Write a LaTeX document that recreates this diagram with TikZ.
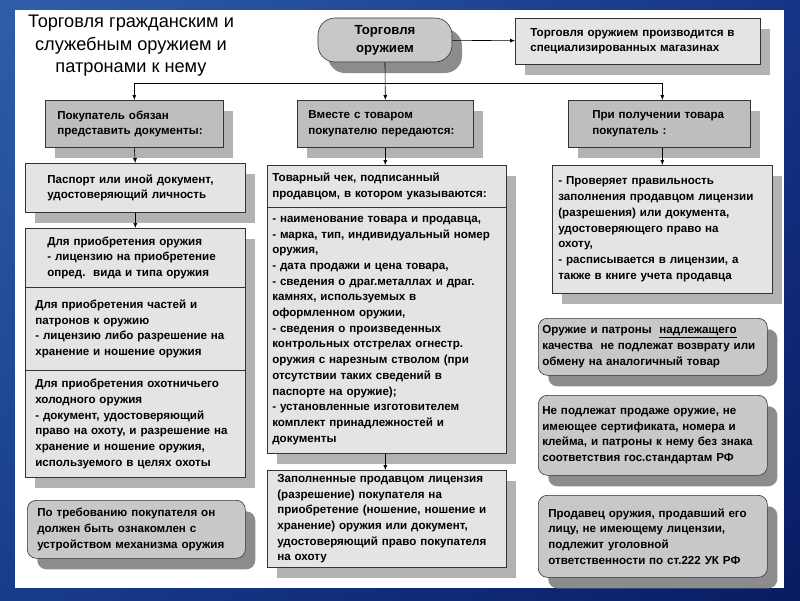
\documentclass[tikz,border=0pt]{standalone}
\usepackage{fontspec}
\setmainfont{Liberation Sans}
\usetikzlibrary{arrows.meta,shadows,shadings}
\definecolor{bgtl}{RGB}{46,94,170}
\definecolor{bgtr}{RGB}{22,52,135}
\definecolor{bgbl}{RGB}{24,60,140}
\definecolor{bgbr}{RGB}{8,28,98}
\definecolor{boxfill}{RGB}{228,228,228}
\definecolor{headfill}{RGB}{190,190,190}
\definecolor{roundfill}{RGB}{200,200,200}
\definecolor{shadelight}{RGB}{178,178,178}
\definecolor{shadedark}{RGB}{140,140,140}
\newcommand\boxfont{\fontsize{11.6}{15.7}\selectfont\bfseries}

\tikzset{
  base/.style={draw=black!80, line width=0.6pt, anchor=north west, align=left, inner ysep=0pt, font=\boxfont},
  box/.style={base, fill=boxfill, drop shadow={shadow xshift=10pt, shadow yshift=-11pt, fill=shadelight, opacity=1}},
  headbox/.style={base, fill=headfill, drop shadow={shadow xshift=10pt, shadow yshift=-11pt, fill=shadelight, opacity=1}},
  roundbox/.style={base, fill=roundfill, rounded corners=9pt, drop shadow={shadow xshift=10pt, shadow yshift=-11pt, fill=shadedark, opacity=1}},
  sz/.style n args={3}{minimum width=#1pt, minimum height=#2pt, text width=#1pt-2*#3pt, inner xsep=#3pt},
  arr/.style={-{Latex[length=5pt,width=4pt]}, black, line width=0.6pt}
}

\begin{document}
\begin{tikzpicture}[x=1pt,y=-1pt]
  %%%%% START %%%%%
  \useasboundingbox (0,0) rectangle (800,600);
  \shade[upper left=bgtl, upper right=bgtr, lower left=bgbl, lower right=bgbr] (0,0) rectangle (800,600);
  \fill[white] (15,10) rectangle (784,588);

  \node[align=center, font=\fontsize{18.2}{22.5}\selectfont] (title) at (131,46) {Торговля гражданским и\\служебным оружием и\\патронами к нему};

  \node[roundbox, rounded corners=17pt, anchor=center, align=center, minimum width=134pt, minimum height=44pt, font=\fontsize{13.2}{18}\selectfont\bfseries] (torg) at (385,40) {Торговля\\оружием};
  \node[box, sz={245}{46}{15}] (shop) at (515,18) {Торговля оружием производится в\\специализированных магазинах};

  \node[headbox, sz={178}{47}{12}] (head1) at (45,100) {Покупатель обязан\\представить документы:};
  \node[headbox, sz={176}{47}{11}] (head2) at (297,100) {Вместе с товаром\\покупателю передаются:};
  \node[headbox, sz={182}{47}{24}] (head3) at (568,100) {При получении товара\\покупатель :};

  \node[box, sz={220}{49}{22}] (pasp) at (25,163) {Паспорт или иной документ,\\удостоверяющий личность};
  \node[box, sz={220}{59}{22}] (buy1) at (25,228) {Для приобретения оружия\\- лицензию на приобретение\\опред.\ \ вида и типа оружия};
  \node[box, sz={220}{83}{10}] (buy2) at (25,287) {Для приобретения частей и\\патронов к оружию\\- лицензию либо разрешение на\\хранение и ношение оружия};
  \node[box, sz={220}{107}{10}] (buy3) at (25,370) {Для приобретения охотничьего\\холодного оружия\\- документ, удостоверяющий\\право на охоту, и разрешение на\\хранение и ношение оружия,\\используемого в целях охоты};
  \node[roundbox, sz={218}{58}{10}] (demo) at (27,500) {По требованию покупателя он\\должен быть ознакомлен с\\устройством механизма оружия};

  \node[box, sz={239}{42}{5}] (chek) at (267,165) {Товарный чек, подписанный\\продавцом, в котором указываются:};
  \node[box, sz={239}{246}{5}] (list) at (267,207) {- наименование товара и продавца,\\- марка, тип, индивидуальный номер\\оружия,\\- дата продажи и цена товара,\\- сведения о драг.металлах и драг.\\камнях, используемых в\\оформленном оружии,\\- сведения о произведенных\\контрольных отстрелах огнестр.\\оружия с нарезным стволом (при\\отсутствии таких сведений в\\паспорте на оружие);\\- установленные изготовителем\\комплект принадлежностей и\\документы};
  \node[box, sz={239}{97}{10}] (zapoln) at (267,470) {Заполненные продавцом лицензия\\(разрешение) покупателя на\\приобретение (ношение, ношение и\\хранение) оружия или документ,\\удостоверяющий право покупателя\\на охоту};

  \node[box, sz={220}{128}{6}] (check) at (552,165) {- Проверяет правильность\\заполнения продавцом лицензии\\(разрешения) или документа,\\удостоверяющего право на\\охоту,\\- расписывается в лицензии, а\\также в книге учета продавца};
  \node[roundbox, sz={229}{57}{4}] (ret) at (538,318) {Оружие и патроны\ \ \underline{надлежащего}\\качества\ \ не подлежат возврату или\\обмену на аналогичный товар};
  \node[roundbox, sz={229}{80}{4}] (nosale) at (538,395) {Не подлежат продаже оружие, не\\имеющее сертификата, номера и\\клейма, и патроны к нему без знака\\соответствия гос.стандартам РФ};
  \node[roundbox, sz={229}{82}{10}] (liab) at (538,495) {Продавец оружия, продавший его\\лицу, не имеющему лицензии,\\подлежит уголовной\\ответственности по ст.222 УК РФ};

  \coordinate (fork) at (385,83);
  \draw[arr] (torg) -- (shop);
  \draw[arr] (torg.south) -- (head2.north);
  \draw[arr] (fork) -| (head1.north);
  \draw[arr] (fork) -| (head3.north -| check.north);
  \draw[arr] (head1.south) -- (pasp.north);
  \draw[arr] (pasp.south) -- (buy1.north);
  \draw[arr] (head2.south) -- (head2.south |- chek.north);
  \draw[arr] (list.south -| head2.south) -- (head2.south |- zapoln.north);
  \draw[arr] (check.north |- head3.south) -- (check.north);
  %%%%% END %%%%%
\end{tikzpicture}
\end{document}
